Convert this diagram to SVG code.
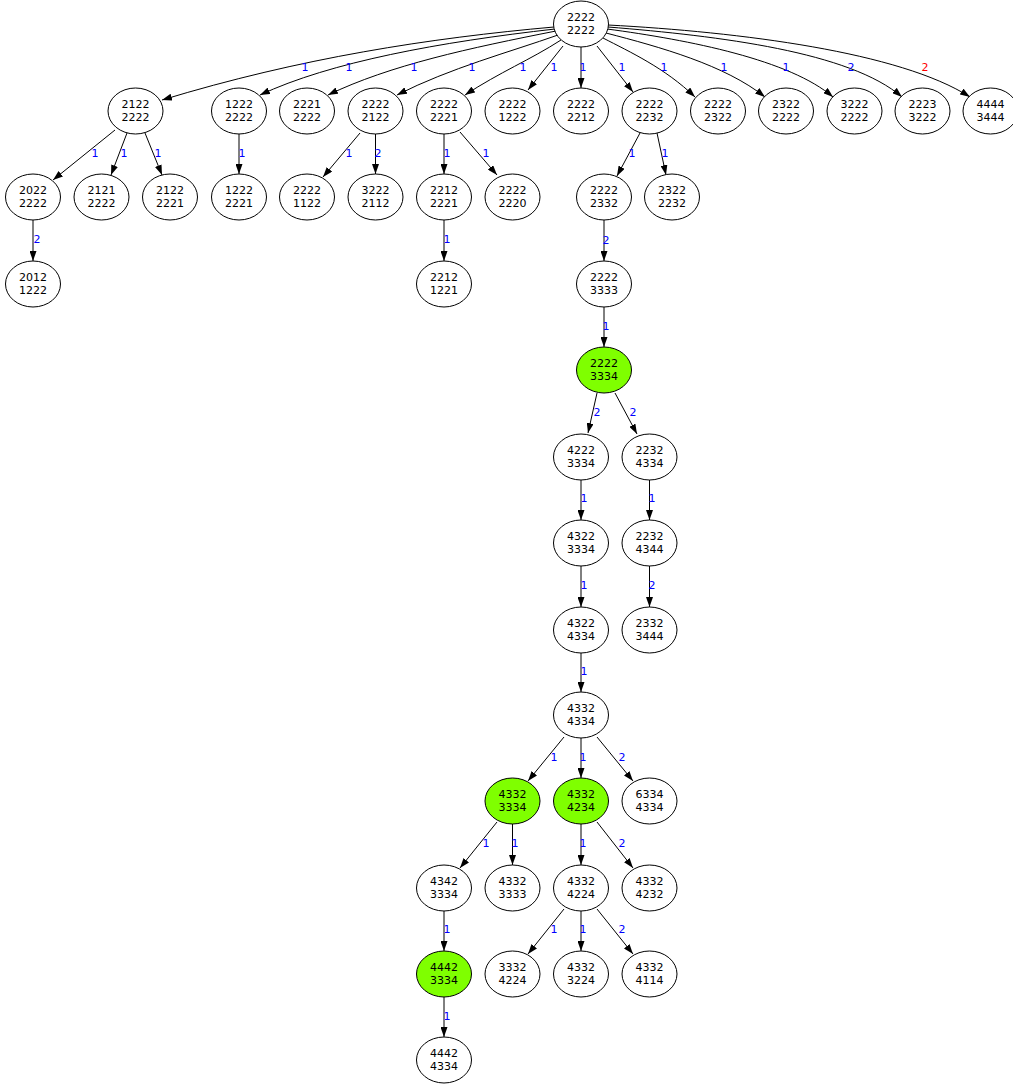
<svg xmlns="http://www.w3.org/2000/svg" width="1013" height="1084" viewBox="0 0 1013 1084">
<style>
.n ellipse{fill:#fff;stroke:#000;stroke-width:1}
.n.g ellipse{fill:#7fff00}
.n text{font-family:"DejaVu Sans",sans-serif;font-size:11px;text-anchor:middle;fill:#000}
#edges path{fill:none;stroke:#000;stroke-width:1;marker-end:url(#ah)}
#edges text{font-family:"DejaVu Sans",sans-serif;font-size:11px;text-anchor:middle;fill:#00f}
#edges text.r{fill:#f00}
</style>
<defs>
<marker id="ah" markerUnits="userSpaceOnUse" markerWidth="10" markerHeight="7" refX="10" refY="3.5" orient="auto">
<path d="M0,0 L10,3.5 L0,7 z" fill="#000"/>
</marker>
</defs>
<rect width="1013" height="1084" fill="#fff"/>
<g id="edges">
<path d="M554,27 C430,38 300,58 162,100"/><text x="305" y="71">1</text>
<path d="M555,29 C440,42 330,62 260,95"/><text x="349" y="71">1</text>
<path d="M556,31 C470,48 390,65 328,95"/><text x="414" y="71">1</text>
<path d="M558,35 C510,52 450,68 397,95"/><text x="472" y="71">1</text>
<path d="M561,40 C530,60 500,72 465,95"/><text x="523" y="71">1</text>
<path d="M563,46 L528,90"/><text x="554" y="71">1</text>
<path d="M581,47 L581,88"/><text x="583" y="71">1</text>
<path d="M597,46 L633,92"/><text x="622" y="71">1</text>
<path d="M603,38 C630,52 665,68 695,97"/><text x="664" y="71">1</text>
<path d="M606,33 C660,47 725,65 765,97"/><text x="724" y="71">1</text>
<path d="M607,29 C690,40 790,60 833,97"/><text x="786" y="71">1</text>
<path d="M608,27 C720,36 850,52 902,97"/><text x="851" y="71">2</text>
<path d="M608,25 C740,32 900,52 970,97"/><text class="r" x="925" y="71">2</text>
<path d="M115,130 L53,180"/><text x="95" y="157">1</text>
<path d="M127,133 L111,175"/><text x="124" y="157">1</text>
<path d="M145,133 L162,175"/><text x="158" y="157">1</text>
<path d="M239,134 L239,174"/><text x="242" y="157">1</text>
<path d="M360,133 L323,177"/><text x="349" y="157">1</text>
<path d="M375.5,134 L375.5,174"/><text x="378" y="157">2</text>
<path d="M444,134 L444,174"/><text x="447" y="157">1</text>
<path d="M460,132 L497,175"/><text x="486" y="157">1</text>
<path d="M640,133 L617,176"/><text x="632" y="157">1</text>
<path d="M657,133 L666,175"/><text x="665" y="157">1</text>
<path d="M33,220 L33,261"/><text x="37" y="243">2</text>
<path d="M444,220 L444,261"/><text x="447" y="243">1</text>
<path d="M604,220 L604,261"/><text x="606" y="244">2</text>
<path d="M604,307 L604,347"/><text x="606" y="330">1</text>
<path d="M597,393 L588,433"/><text x="597" y="416">2</text>
<path d="M615,393 L637,434"/><text x="633" y="416">2</text>
<path d="M581,480 L581,520"/><text x="584" y="502">1</text>
<path d="M649.5,480 L649.5,520"/><text x="652" y="502">1</text>
<path d="M581,566 L581,607"/><text x="584" y="589">1</text>
<path d="M649.5,566 L649.5,607"/><text x="652" y="589">2</text>
<path d="M581,653 L581,692"/><text x="584" y="675">1</text>
<path d="M564,737 L528,781"/><text x="554" y="761">1</text>
<path d="M581,738 L581,778"/><text x="583" y="761">1</text>
<path d="M597,737 L633,781"/><text x="622" y="761">2</text>
<path d="M497,822 L460,868"/><text x="486" y="847">1</text>
<path d="M512.5,824 L512.5,865"/><text x="515" y="847">1</text>
<path d="M581,824 L581,865"/><text x="583" y="847">1</text>
<path d="M597,822 L633,868"/><text x="622" y="847">2</text>
<path d="M444,911 L444,951"/><text x="447" y="933">1</text>
<path d="M564,909 L528,954"/><text x="554" y="933">1</text>
<path d="M581,911 L581,951"/><text x="583" y="933">1</text>
<path d="M597,909 L633,954"/><text x="622" y="933">2</text>
<path d="M444,997 L444,1037"/><text x="447" y="1020">1</text>
</g>
<g id="n0" class="n"><ellipse cx="581" cy="24" rx="27.5" ry="23"/><text x="581" y="20.5">2222<tspan x="581" dy="13.3">2222</tspan></text></g>
<g id="n1" class="n"><ellipse cx="135.5" cy="111" rx="27.5" ry="23"/><text x="135.5" y="107.5">2122<tspan x="135.5" dy="13.3">2222</tspan></text></g>
<g id="n2" class="n"><ellipse cx="239" cy="111" rx="27.5" ry="23"/><text x="239" y="107.5">1222<tspan x="239" dy="13.3">2222</tspan></text></g>
<g id="n3" class="n"><ellipse cx="307" cy="111" rx="27.5" ry="23"/><text x="307" y="107.5">2221<tspan x="307" dy="13.3">2222</tspan></text></g>
<g id="n4" class="n"><ellipse cx="375.5" cy="111" rx="27.5" ry="23"/><text x="375.5" y="107.5">2222<tspan x="375.5" dy="13.3">2122</tspan></text></g>
<g id="n5" class="n"><ellipse cx="444" cy="111" rx="27.5" ry="23"/><text x="444" y="107.5">2222<tspan x="444" dy="13.3">2221</tspan></text></g>
<g id="n6" class="n"><ellipse cx="512.5" cy="111" rx="27.5" ry="23"/><text x="512.5" y="107.5">2222<tspan x="512.5" dy="13.3">1222</tspan></text></g>
<g id="n7" class="n"><ellipse cx="581" cy="111" rx="27.5" ry="23"/><text x="581" y="107.5">2222<tspan x="581" dy="13.3">2212</tspan></text></g>
<g id="n8" class="n"><ellipse cx="649.5" cy="111" rx="27.5" ry="23"/><text x="649.5" y="107.5">2222<tspan x="649.5" dy="13.3">2232</tspan></text></g>
<g id="n9" class="n"><ellipse cx="718" cy="111" rx="27.5" ry="23"/><text x="718" y="107.5">2222<tspan x="718" dy="13.3">2322</tspan></text></g>
<g id="n10" class="n"><ellipse cx="786" cy="111" rx="27.5" ry="23"/><text x="786" y="107.5">2322<tspan x="786" dy="13.3">2222</tspan></text></g>
<g id="n11" class="n"><ellipse cx="854.5" cy="111" rx="27.5" ry="23"/><text x="854.5" y="107.5">3222<tspan x="854.5" dy="13.3">2222</tspan></text></g>
<g id="n12" class="n"><ellipse cx="922.5" cy="111" rx="27.5" ry="23"/><text x="922.5" y="107.5">2223<tspan x="922.5" dy="13.3">3222</tspan></text></g>
<g id="n13" class="n"><ellipse cx="990.5" cy="111" rx="27.5" ry="23"/><text x="990.5" y="107.5">4444<tspan x="990.5" dy="13.3">3444</tspan></text></g>
<g id="n14" class="n"><ellipse cx="33" cy="197" rx="27.5" ry="23"/><text x="33" y="193.5">2022<tspan x="33" dy="13.3">2222</tspan></text></g>
<g id="n15" class="n"><ellipse cx="101.5" cy="197" rx="27.5" ry="23"/><text x="101.5" y="193.5">2121<tspan x="101.5" dy="13.3">2222</tspan></text></g>
<g id="n16" class="n"><ellipse cx="170" cy="197" rx="27.5" ry="23"/><text x="170" y="193.5">2122<tspan x="170" dy="13.3">2221</tspan></text></g>
<g id="n17" class="n"><ellipse cx="239" cy="197" rx="27.5" ry="23"/><text x="239" y="193.5">1222<tspan x="239" dy="13.3">2221</tspan></text></g>
<g id="n18" class="n"><ellipse cx="307" cy="197" rx="27.5" ry="23"/><text x="307" y="193.5">2222<tspan x="307" dy="13.3">1122</tspan></text></g>
<g id="n19" class="n"><ellipse cx="375.5" cy="197" rx="27.5" ry="23"/><text x="375.5" y="193.5">3222<tspan x="375.5" dy="13.3">2112</tspan></text></g>
<g id="n20" class="n"><ellipse cx="444" cy="197" rx="27.5" ry="23"/><text x="444" y="193.5">2212<tspan x="444" dy="13.3">2221</tspan></text></g>
<g id="n21" class="n"><ellipse cx="512.5" cy="197" rx="27.5" ry="23"/><text x="512.5" y="193.5">2222<tspan x="512.5" dy="13.3">2220</tspan></text></g>
<g id="n22" class="n"><ellipse cx="604" cy="197" rx="27.5" ry="23"/><text x="604" y="193.5">2222<tspan x="604" dy="13.3">2332</tspan></text></g>
<g id="n23" class="n"><ellipse cx="672" cy="197" rx="27.5" ry="23"/><text x="672" y="193.5">2322<tspan x="672" dy="13.3">2232</tspan></text></g>
<g id="n24" class="n"><ellipse cx="33" cy="284" rx="27.5" ry="23"/><text x="33" y="280.5">2012<tspan x="33" dy="13.3">1222</tspan></text></g>
<g id="n25" class="n"><ellipse cx="444" cy="284" rx="27.5" ry="23"/><text x="444" y="280.5">2212<tspan x="444" dy="13.3">1221</tspan></text></g>
<g id="n26" class="n"><ellipse cx="604" cy="284" rx="27.5" ry="23"/><text x="604" y="280.5">2222<tspan x="604" dy="13.3">3333</tspan></text></g>
<g id="n27" class="n g"><ellipse cx="604" cy="370" rx="27.5" ry="23"/><text x="604" y="366.5">2222<tspan x="604" dy="13.3">3334</tspan></text></g>
<g id="n28" class="n"><ellipse cx="581" cy="457" rx="27.5" ry="23"/><text x="581" y="453.5">4222<tspan x="581" dy="13.3">3334</tspan></text></g>
<g id="n29" class="n"><ellipse cx="649.5" cy="457" rx="27.5" ry="23"/><text x="649.5" y="453.5">2232<tspan x="649.5" dy="13.3">4334</tspan></text></g>
<g id="n30" class="n"><ellipse cx="581" cy="543" rx="27.5" ry="23"/><text x="581" y="539.5">4322<tspan x="581" dy="13.3">3334</tspan></text></g>
<g id="n31" class="n"><ellipse cx="649.5" cy="543" rx="27.5" ry="23"/><text x="649.5" y="539.5">2232<tspan x="649.5" dy="13.3">4344</tspan></text></g>
<g id="n32" class="n"><ellipse cx="581" cy="630" rx="27.5" ry="23"/><text x="581" y="626.5">4322<tspan x="581" dy="13.3">4334</tspan></text></g>
<g id="n33" class="n"><ellipse cx="649.5" cy="630" rx="27.5" ry="23"/><text x="649.5" y="626.5">2332<tspan x="649.5" dy="13.3">3444</tspan></text></g>
<g id="n34" class="n"><ellipse cx="581" cy="715" rx="27.5" ry="23"/><text x="581" y="711.5">4332<tspan x="581" dy="13.3">4334</tspan></text></g>
<g id="n35" class="n g"><ellipse cx="512.5" cy="801" rx="27.5" ry="23"/><text x="512.5" y="797.5">4332<tspan x="512.5" dy="13.3">3334</tspan></text></g>
<g id="n36" class="n g"><ellipse cx="581" cy="801" rx="27.5" ry="23"/><text x="581" y="797.5">4332<tspan x="581" dy="13.3">4234</tspan></text></g>
<g id="n37" class="n"><ellipse cx="649.5" cy="801" rx="27.5" ry="23"/><text x="649.5" y="797.5">6334<tspan x="649.5" dy="13.3">4334</tspan></text></g>
<g id="n38" class="n"><ellipse cx="444" cy="888" rx="27.5" ry="23"/><text x="444" y="884.5">4342<tspan x="444" dy="13.3">3334</tspan></text></g>
<g id="n39" class="n"><ellipse cx="512.5" cy="888" rx="27.5" ry="23"/><text x="512.5" y="884.5">4332<tspan x="512.5" dy="13.3">3333</tspan></text></g>
<g id="n40" class="n"><ellipse cx="581" cy="888" rx="27.5" ry="23"/><text x="581" y="884.5">4332<tspan x="581" dy="13.3">4224</tspan></text></g>
<g id="n41" class="n"><ellipse cx="649.5" cy="888" rx="27.5" ry="23"/><text x="649.5" y="884.5">4332<tspan x="649.5" dy="13.3">4232</tspan></text></g>
<g id="n42" class="n g"><ellipse cx="444" cy="974" rx="27.5" ry="23"/><text x="444" y="970.5">4442<tspan x="444" dy="13.3">3334</tspan></text></g>
<g id="n43" class="n"><ellipse cx="512.5" cy="974" rx="27.5" ry="23"/><text x="512.5" y="970.5">3332<tspan x="512.5" dy="13.3">4224</tspan></text></g>
<g id="n44" class="n"><ellipse cx="581" cy="974" rx="27.5" ry="23"/><text x="581" y="970.5">4332<tspan x="581" dy="13.3">3224</tspan></text></g>
<g id="n45" class="n"><ellipse cx="649.5" cy="974" rx="27.5" ry="23"/><text x="649.5" y="970.5">4332<tspan x="649.5" dy="13.3">4114</tspan></text></g>
<g id="n46" class="n"><ellipse cx="444" cy="1060" rx="27.5" ry="23"/><text x="444" y="1056.5">4442<tspan x="444" dy="13.3">4334</tspan></text></g>
</svg>
